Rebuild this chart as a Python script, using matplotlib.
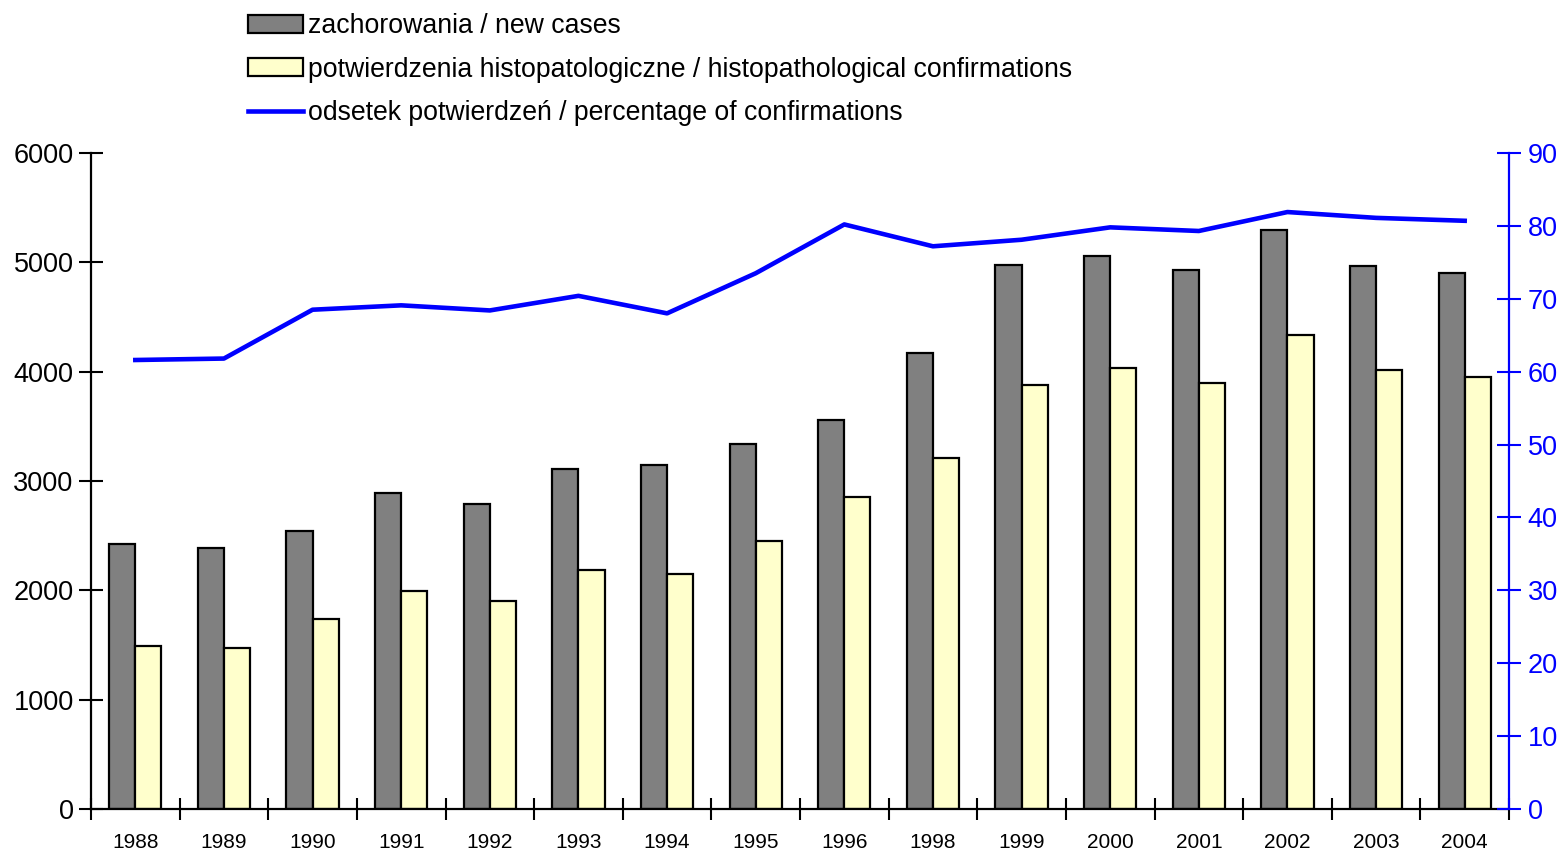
import numpy as np
import matplotlib
matplotlib.use('Agg')
import matplotlib.pyplot as plt

lata = ['1988', '1989', '1990', '1991', '1992', '1993', '1994', '1995',
        '1996', '1998', '1999', '2000', '2001', '2002', '2003', '2004']
zachorowania = [2420, 2385, 2545, 2890, 2790, 3110, 3150, 3340,
                3560, 4170, 4980, 5060, 4930, 5295, 4965, 4900]
potwierdzenia = [1490, 1470, 1740, 1995, 1905, 2190, 2145, 2450,
                 2850, 3210, 3880, 4030, 3900, 4335, 4015, 3955]
odsetek = [61.6, 61.8, 68.5, 69.1, 68.4, 70.4, 68.0, 73.5,
           80.2, 77.2, 78.1, 79.8, 79.3, 81.9, 81.1, 80.7]

plt.rcParams['font.family'] = ['Liberation Sans', 'DejaVu Sans']

fig = plt.figure(figsize=(15.62, 8.52), dpi=100)
ax = fig.add_axes([91/1562, 1-809/852, (1509-91)/1562, (809-153)/852])
ax2 = ax.twinx()

x = np.arange(len(lata))
w = 0.295
b1 = ax.bar(x - w/2, zachorowania, w, color='#808080', edgecolor='black', linewidth=1.6,
            label='zachorowania / new cases')
b2 = ax.bar(x + w/2, potwierdzenia, w, color='#FFFFCC', edgecolor='black', linewidth=1.6,
            label='potwierdzenia histopatologiczne / histopathological confirmations')
l1, = ax2.plot(x, odsetek, color='#0000FF', linewidth=3.3,
               label='odsetek potwierdzeń / percentage of confirmations')

ax.set_xlim(-0.5, len(lata) - 0.5)
ax.set_ylim(0, 6000)
ax2.set_ylim(0, 90)
ax.set_yticks(range(0, 6001, 1000))
ax2.set_yticks(range(0, 91, 10))

# ticki osi x na granicach kategorii, etykiety pod srodkiem
ax.set_xticks(np.arange(-0.5, len(lata) - 0.4, 1))
ax.set_xticklabels([])
ax.set_xticks(x, minor=True)
ax.set_xticklabels(lata, minor=True, fontsize=15)
ax.tick_params(axis='x', which='minor', length=0, pad=17)
ax.tick_params(axis='x', which='major', direction='inout', length=16, width=1.5)
ax.tick_params(axis='y', direction='inout', length=17, width=1.5, labelsize=19.5, pad=4)
ax2.tick_params(axis='y', direction='inout', length=17, width=1.5, labelsize=19.5,
                colors='#0000FF', pad=5)

for a in (ax, ax2):
    a.spines['top'].set_visible(False)
    for s in a.spines.values():
        s.set_linewidth(1.6)
ax2.spines['left'].set_visible(False)
ax2.spines['bottom'].set_visible(False)
ax2.spines['right'].set_color('#0000FF')
ax.spines['right'].set_visible(False)

fig.legend(handles=[b1, b2, l1], loc='upper left', bbox_to_anchor=(248/1562, 1 - 13/852),
           frameon=False, fontsize=19.2, handlelength=2.05, handleheight=0.65,
           handletextpad=0.2, labelspacing=0.66, borderpad=0, borderaxespad=0)

fig.savefig('out.png', dpi=100)
